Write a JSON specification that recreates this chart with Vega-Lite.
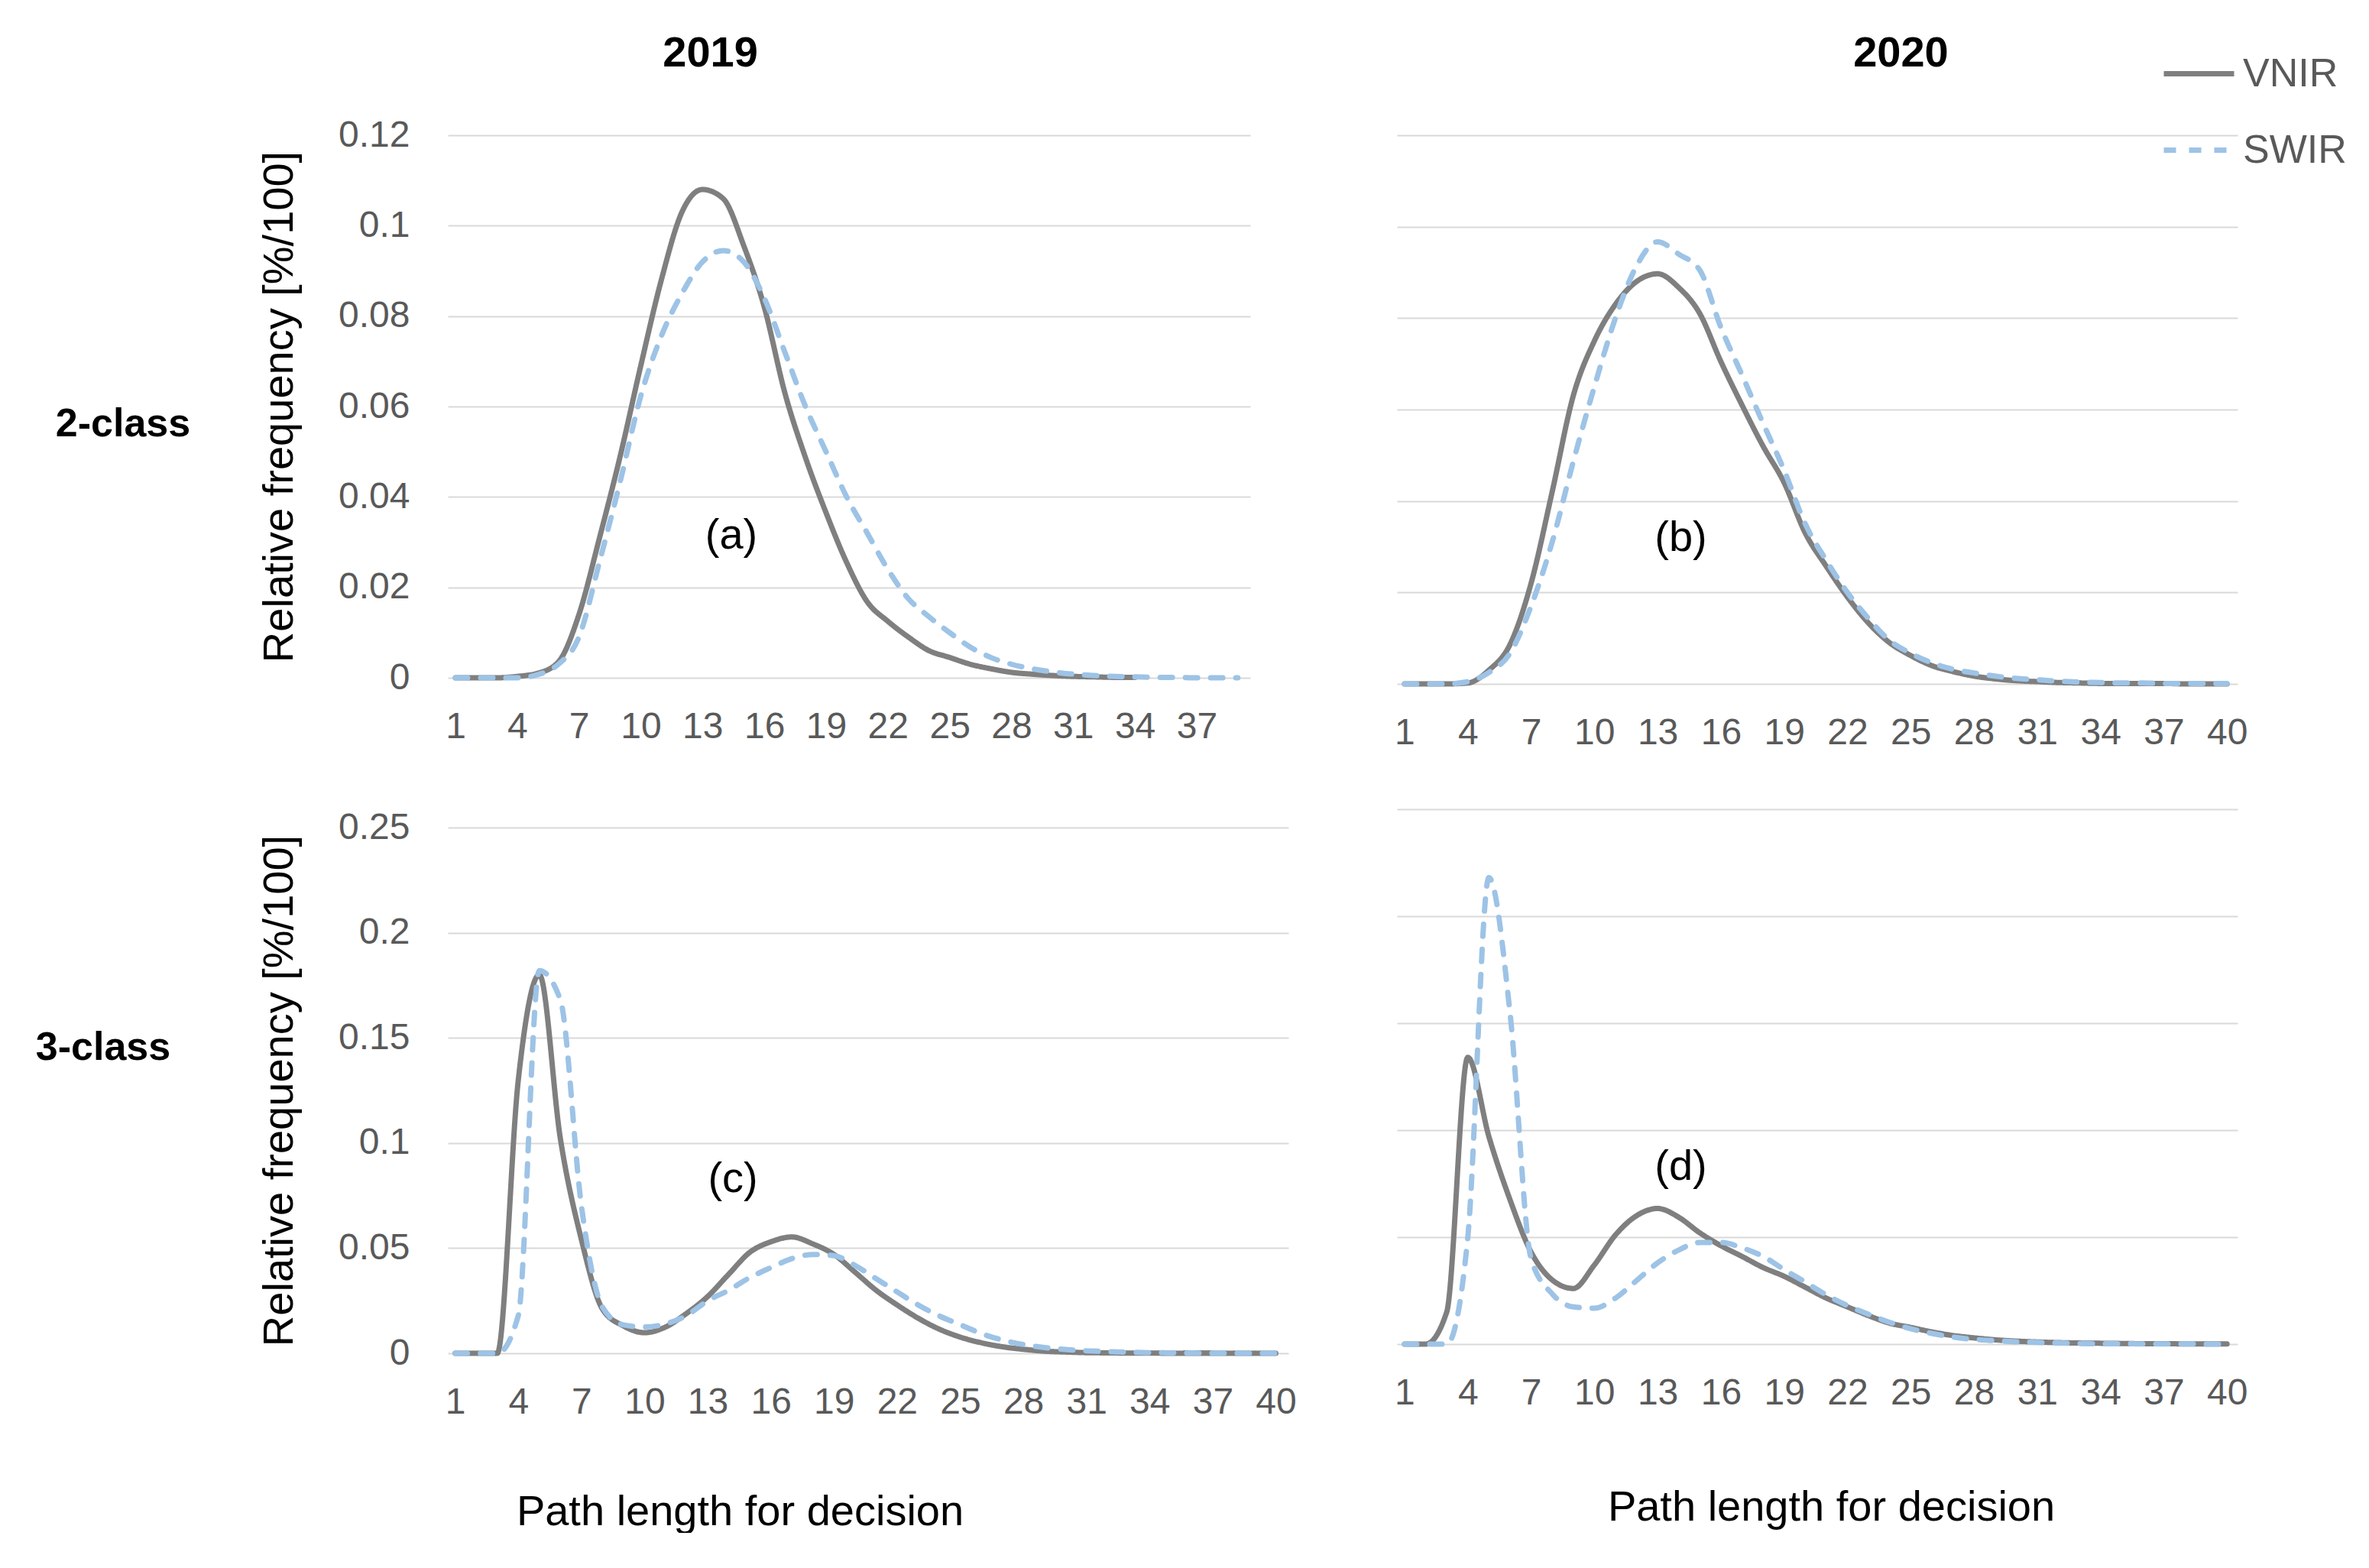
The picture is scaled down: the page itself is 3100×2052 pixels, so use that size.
{
  "$schema": "https://vega.github.io/schema/vega-lite/v6.json",
  "background": "white",
  "padding": {"left": 46, "top": 42, "right": 0, "bottom": 0},
  "config": {
    "font": "Liberation Sans",
    "view": {"stroke": null},
    "axis": {"domain": false, "ticks": false, "labelFontSize": 48, "labelColor": "#595959", "gridColor": "#D9D9D9", "gridWidth": 2, "titleFontSize": 56, "titleFontWeight": "normal", "titleColor": "#000000"},
    "axisX": {"grid": false, "labelPadding": 40, "titlePadding": 70},
    "axisY": {"grid": true, "labelPadding": 50, "titlePadding": 48},
    "legend": {"orient": "none", "legendX": 2242, "legendY": -130, "title": null, "symbolType": "stroke", "symbolSize": 8464, "symbolStrokeWidth": 7, "labelFontSize": 52, "labelColor": "#595959", "labelOffset": 8, "rowPadding": 24},
    "title": {"fontSize": 56, "fontWeight": "bold", "color": "#000000"}
  },
  "data": {"values": [
    {"panel":"a","sensor":"VNIR","x":1,"freq":0},{"panel":"a","sensor":"VNIR","x":2,"freq":0},{"panel":"a","sensor":"VNIR","x":3,"freq":0},{"panel":"a","sensor":"VNIR","x":4,"freq":0.0003},{"panel":"a","sensor":"VNIR","x":5,"freq":0.001},{"panel":"a","sensor":"VNIR","x":6,"freq":0.0035},{"panel":"a","sensor":"VNIR","x":7,"freq":0.014},{"panel":"a","sensor":"VNIR","x":8,"freq":0.031},{"panel":"a","sensor":"VNIR","x":9,"freq":0.049},{"panel":"a","sensor":"VNIR","x":10,"freq":0.069},{"panel":"a","sensor":"VNIR","x":11,"freq":0.088},{"panel":"a","sensor":"VNIR","x":12,"freq":0.103},{"panel":"a","sensor":"VNIR","x":13,"freq":0.108},{"panel":"a","sensor":"VNIR","x":14,"freq":0.106},{"panel":"a","sensor":"VNIR","x":15,"freq":0.0956},{"panel":"a","sensor":"VNIR","x":16,"freq":0.082},{"panel":"a","sensor":"VNIR","x":17,"freq":0.063},{"panel":"a","sensor":"VNIR","x":18,"freq":0.0487},{"panel":"a","sensor":"VNIR","x":19,"freq":0.0365},{"panel":"a","sensor":"VNIR","x":20,"freq":0.0255},{"panel":"a","sensor":"VNIR","x":21,"freq":0.0168},{"panel":"a","sensor":"VNIR","x":22,"freq":0.0125},{"panel":"a","sensor":"VNIR","x":23,"freq":0.009},{"panel":"a","sensor":"VNIR","x":24,"freq":0.006},{"panel":"a","sensor":"VNIR","x":25,"freq":0.0045},{"panel":"a","sensor":"VNIR","x":26,"freq":0.003},{"panel":"a","sensor":"VNIR","x":27,"freq":0.002},{"panel":"a","sensor":"VNIR","x":28,"freq":0.0012},{"panel":"a","sensor":"VNIR","x":29,"freq":0.0008},{"panel":"a","sensor":"VNIR","x":30,"freq":0.0005},{"panel":"a","sensor":"VNIR","x":31,"freq":0.0003},{"panel":"a","sensor":"VNIR","x":32,"freq":0.0002},{"panel":"a","sensor":"VNIR","x":33,"freq":0.0001},{"panel":"a","sensor":"VNIR","x":34,"freq":0.0001},
    {"panel":"a","sensor":"SWIR","x":1,"freq":0},{"panel":"a","sensor":"SWIR","x":2,"freq":0},{"panel":"a","sensor":"SWIR","x":3,"freq":0},{"panel":"a","sensor":"SWIR","x":4,"freq":0},{"panel":"a","sensor":"SWIR","x":5,"freq":0.0007},{"panel":"a","sensor":"SWIR","x":6,"freq":0.003},{"panel":"a","sensor":"SWIR","x":7,"freq":0.009},{"panel":"a","sensor":"SWIR","x":8,"freq":0.0257},{"panel":"a","sensor":"SWIR","x":9,"freq":0.0434},{"panel":"a","sensor":"SWIR","x":10,"freq":0.0623},{"panel":"a","sensor":"SWIR","x":11,"freq":0.0756},{"panel":"a","sensor":"SWIR","x":12,"freq":0.085},{"panel":"a","sensor":"SWIR","x":13,"freq":0.092},{"panel":"a","sensor":"SWIR","x":14,"freq":0.0945},{"panel":"a","sensor":"SWIR","x":15,"freq":0.092},{"panel":"a","sensor":"SWIR","x":16,"freq":0.084},{"panel":"a","sensor":"SWIR","x":17,"freq":0.072},{"panel":"a","sensor":"SWIR","x":18,"freq":0.06},{"panel":"a","sensor":"SWIR","x":19,"freq":0.05},{"panel":"a","sensor":"SWIR","x":20,"freq":0.04},{"panel":"a","sensor":"SWIR","x":21,"freq":0.032},{"panel":"a","sensor":"SWIR","x":22,"freq":0.024},{"panel":"a","sensor":"SWIR","x":23,"freq":0.0175},{"panel":"a","sensor":"SWIR","x":24,"freq":0.0135},{"panel":"a","sensor":"SWIR","x":25,"freq":0.01},{"panel":"a","sensor":"SWIR","x":26,"freq":0.0068},{"panel":"a","sensor":"SWIR","x":27,"freq":0.0045},{"panel":"a","sensor":"SWIR","x":28,"freq":0.003},{"panel":"a","sensor":"SWIR","x":29,"freq":0.002},{"panel":"a","sensor":"SWIR","x":30,"freq":0.0013},{"panel":"a","sensor":"SWIR","x":31,"freq":0.0008},{"panel":"a","sensor":"SWIR","x":32,"freq":0.0005},{"panel":"a","sensor":"SWIR","x":33,"freq":0.0003},{"panel":"a","sensor":"SWIR","x":34,"freq":0.0002},{"panel":"a","sensor":"SWIR","x":35,"freq":0.0001},{"panel":"a","sensor":"SWIR","x":36,"freq":0.0001},{"panel":"a","sensor":"SWIR","x":37,"freq":0},{"panel":"a","sensor":"SWIR","x":38,"freq":0},{"panel":"a","sensor":"SWIR","x":39,"freq":0},
    {"panel":"b","sensor":"VNIR","x":1,"freq":0},{"panel":"b","sensor":"VNIR","x":2,"freq":0},{"panel":"b","sensor":"VNIR","x":3,"freq":0},{"panel":"b","sensor":"VNIR","x":4,"freq":0.0002},{"panel":"b","sensor":"VNIR","x":5,"freq":0.003},{"panel":"b","sensor":"VNIR","x":6,"freq":0.0086},{"panel":"b","sensor":"VNIR","x":7,"freq":0.022},{"panel":"b","sensor":"VNIR","x":8,"freq":0.042},{"panel":"b","sensor":"VNIR","x":9,"freq":0.063},{"panel":"b","sensor":"VNIR","x":10,"freq":0.075},{"panel":"b","sensor":"VNIR","x":11,"freq":0.083},{"panel":"b","sensor":"VNIR","x":12,"freq":0.088},{"panel":"b","sensor":"VNIR","x":13,"freq":0.0897},{"panel":"b","sensor":"VNIR","x":14,"freq":0.0867},{"panel":"b","sensor":"VNIR","x":15,"freq":0.081},{"panel":"b","sensor":"VNIR","x":16,"freq":0.0705},{"panel":"b","sensor":"VNIR","x":17,"freq":0.061},{"panel":"b","sensor":"VNIR","x":18,"freq":0.052},{"panel":"b","sensor":"VNIR","x":19,"freq":0.044},{"panel":"b","sensor":"VNIR","x":20,"freq":0.033},{"panel":"b","sensor":"VNIR","x":21,"freq":0.0257},{"panel":"b","sensor":"VNIR","x":22,"freq":0.019},{"panel":"b","sensor":"VNIR","x":23,"freq":0.0133},{"panel":"b","sensor":"VNIR","x":24,"freq":0.009},{"panel":"b","sensor":"VNIR","x":25,"freq":0.0062},{"panel":"b","sensor":"VNIR","x":26,"freq":0.004},{"panel":"b","sensor":"VNIR","x":27,"freq":0.0027},{"panel":"b","sensor":"VNIR","x":28,"freq":0.0017},{"panel":"b","sensor":"VNIR","x":29,"freq":0.0011},{"panel":"b","sensor":"VNIR","x":30,"freq":0.0007},{"panel":"b","sensor":"VNIR","x":31,"freq":0.0005},{"panel":"b","sensor":"VNIR","x":32,"freq":0.0003},{"panel":"b","sensor":"VNIR","x":33,"freq":0.0002},{"panel":"b","sensor":"VNIR","x":34,"freq":0.0001},{"panel":"b","sensor":"VNIR","x":35,"freq":0.0001},{"panel":"b","sensor":"VNIR","x":36,"freq":0.0001},{"panel":"b","sensor":"VNIR","x":37,"freq":0.0001},{"panel":"b","sensor":"VNIR","x":38,"freq":0},{"panel":"b","sensor":"VNIR","x":39,"freq":0},{"panel":"b","sensor":"VNIR","x":40,"freq":0},
    {"panel":"b","sensor":"SWIR","x":1,"freq":0},{"panel":"b","sensor":"SWIR","x":2,"freq":0},{"panel":"b","sensor":"SWIR","x":3,"freq":0},{"panel":"b","sensor":"SWIR","x":4,"freq":0.0005},{"panel":"b","sensor":"SWIR","x":5,"freq":0.0025},{"panel":"b","sensor":"SWIR","x":6,"freq":0.0067},{"panel":"b","sensor":"SWIR","x":7,"freq":0.017},{"panel":"b","sensor":"SWIR","x":8,"freq":0.031},{"panel":"b","sensor":"SWIR","x":9,"freq":0.0486},{"panel":"b","sensor":"SWIR","x":10,"freq":0.065},{"panel":"b","sensor":"SWIR","x":11,"freq":0.08},{"panel":"b","sensor":"SWIR","x":12,"freq":0.0914},{"panel":"b","sensor":"SWIR","x":13,"freq":0.0967},{"panel":"b","sensor":"SWIR","x":14,"freq":0.094},{"panel":"b","sensor":"SWIR","x":15,"freq":0.0905},{"panel":"b","sensor":"SWIR","x":16,"freq":0.078},{"panel":"b","sensor":"SWIR","x":17,"freq":0.0676},{"panel":"b","sensor":"SWIR","x":18,"freq":0.057},{"panel":"b","sensor":"SWIR","x":19,"freq":0.0467},{"panel":"b","sensor":"SWIR","x":20,"freq":0.035},{"panel":"b","sensor":"SWIR","x":21,"freq":0.027},{"panel":"b","sensor":"SWIR","x":22,"freq":0.02},{"panel":"b","sensor":"SWIR","x":23,"freq":0.0143},{"panel":"b","sensor":"SWIR","x":24,"freq":0.0095},{"panel":"b","sensor":"SWIR","x":25,"freq":0.0067},{"panel":"b","sensor":"SWIR","x":26,"freq":0.0046},{"panel":"b","sensor":"SWIR","x":27,"freq":0.0032},{"panel":"b","sensor":"SWIR","x":28,"freq":0.0024},{"panel":"b","sensor":"SWIR","x":29,"freq":0.0017},{"panel":"b","sensor":"SWIR","x":30,"freq":0.0012},{"panel":"b","sensor":"SWIR","x":31,"freq":0.0009},{"panel":"b","sensor":"SWIR","x":32,"freq":0.0006},{"panel":"b","sensor":"SWIR","x":33,"freq":0.0004},{"panel":"b","sensor":"SWIR","x":34,"freq":0.0003},{"panel":"b","sensor":"SWIR","x":35,"freq":0.0002},{"panel":"b","sensor":"SWIR","x":36,"freq":0.0002},{"panel":"b","sensor":"SWIR","x":37,"freq":0.0001},{"panel":"b","sensor":"SWIR","x":38,"freq":0.0001},{"panel":"b","sensor":"SWIR","x":39,"freq":0.0001},{"panel":"b","sensor":"SWIR","x":40,"freq":0.0001},
    {"panel":"c","sensor":"VNIR","x":1,"freq":0},{"panel":"c","sensor":"VNIR","x":2,"freq":0},{"panel":"c","sensor":"VNIR","x":3,"freq":0},{"panel":"c","sensor":"VNIR","x":4,"freq":0.13},{"panel":"c","sensor":"VNIR","x":5,"freq":0.18},{"panel":"c","sensor":"VNIR","x":6,"freq":0.102},{"panel":"c","sensor":"VNIR","x":7,"freq":0.054},{"panel":"c","sensor":"VNIR","x":8,"freq":0.021},{"panel":"c","sensor":"VNIR","x":9,"freq":0.013},{"panel":"c","sensor":"VNIR","x":10,"freq":0.0098},{"panel":"c","sensor":"VNIR","x":11,"freq":0.0125},{"panel":"c","sensor":"VNIR","x":12,"freq":0.019},{"panel":"c","sensor":"VNIR","x":13,"freq":0.027},{"panel":"c","sensor":"VNIR","x":14,"freq":0.0376},{"panel":"c","sensor":"VNIR","x":15,"freq":0.048},{"panel":"c","sensor":"VNIR","x":16,"freq":0.053},{"panel":"c","sensor":"VNIR","x":17,"freq":0.0553},{"panel":"c","sensor":"VNIR","x":18,"freq":0.052},{"panel":"c","sensor":"VNIR","x":19,"freq":0.047},{"panel":"c","sensor":"VNIR","x":20,"freq":0.0386},{"panel":"c","sensor":"VNIR","x":21,"freq":0.03},{"panel":"c","sensor":"VNIR","x":22,"freq":0.023},{"panel":"c","sensor":"VNIR","x":23,"freq":0.0167},{"panel":"c","sensor":"VNIR","x":24,"freq":0.0115},{"panel":"c","sensor":"VNIR","x":25,"freq":0.0077},{"panel":"c","sensor":"VNIR","x":26,"freq":0.005},{"panel":"c","sensor":"VNIR","x":27,"freq":0.0031},{"panel":"c","sensor":"VNIR","x":28,"freq":0.0019},{"panel":"c","sensor":"VNIR","x":29,"freq":0.001},{"panel":"c","sensor":"VNIR","x":30,"freq":0.0006},{"panel":"c","sensor":"VNIR","x":31,"freq":0.0003},{"panel":"c","sensor":"VNIR","x":32,"freq":0.0002},{"panel":"c","sensor":"VNIR","x":33,"freq":0.0001},{"panel":"c","sensor":"VNIR","x":34,"freq":0.0001},{"panel":"c","sensor":"VNIR","x":35,"freq":0},{"panel":"c","sensor":"VNIR","x":36,"freq":0},{"panel":"c","sensor":"VNIR","x":37,"freq":0},{"panel":"c","sensor":"VNIR","x":38,"freq":0},{"panel":"c","sensor":"VNIR","x":39,"freq":0},{"panel":"c","sensor":"VNIR","x":40,"freq":0},
    {"panel":"c","sensor":"SWIR","x":1,"freq":0},{"panel":"c","sensor":"SWIR","x":2,"freq":0},{"panel":"c","sensor":"SWIR","x":3,"freq":0},{"panel":"c","sensor":"SWIR","x":4,"freq":0.018},{"panel":"c","sensor":"SWIR","x":5,"freq":0.182},{"panel":"c","sensor":"SWIR","x":6,"freq":0.168},{"panel":"c","sensor":"SWIR","x":7,"freq":0.07},{"panel":"c","sensor":"SWIR","x":8,"freq":0.022},{"panel":"c","sensor":"SWIR","x":9,"freq":0.0135},{"panel":"c","sensor":"SWIR","x":10,"freq":0.0125},{"panel":"c","sensor":"SWIR","x":11,"freq":0.014},{"panel":"c","sensor":"SWIR","x":12,"freq":0.018},{"panel":"c","sensor":"SWIR","x":13,"freq":0.025},{"panel":"c","sensor":"SWIR","x":14,"freq":0.03},{"panel":"c","sensor":"SWIR","x":15,"freq":0.036},{"panel":"c","sensor":"SWIR","x":16,"freq":0.0407},{"panel":"c","sensor":"SWIR","x":17,"freq":0.045},{"panel":"c","sensor":"SWIR","x":18,"freq":0.047},{"panel":"c","sensor":"SWIR","x":19,"freq":0.0464},{"panel":"c","sensor":"SWIR","x":20,"freq":0.0418},{"panel":"c","sensor":"SWIR","x":21,"freq":0.0355},{"panel":"c","sensor":"SWIR","x":22,"freq":0.0292},{"panel":"c","sensor":"SWIR","x":23,"freq":0.023},{"panel":"c","sensor":"SWIR","x":24,"freq":0.0178},{"panel":"c","sensor":"SWIR","x":25,"freq":0.0136},{"panel":"c","sensor":"SWIR","x":26,"freq":0.0094},{"panel":"c","sensor":"SWIR","x":27,"freq":0.0063},{"panel":"c","sensor":"SWIR","x":28,"freq":0.0042},{"panel":"c","sensor":"SWIR","x":29,"freq":0.0027},{"panel":"c","sensor":"SWIR","x":30,"freq":0.0018},{"panel":"c","sensor":"SWIR","x":31,"freq":0.0012},{"panel":"c","sensor":"SWIR","x":32,"freq":0.0008},{"panel":"c","sensor":"SWIR","x":33,"freq":0.0005},{"panel":"c","sensor":"SWIR","x":34,"freq":0.0003},{"panel":"c","sensor":"SWIR","x":35,"freq":0.0002},{"panel":"c","sensor":"SWIR","x":36,"freq":0.0001},{"panel":"c","sensor":"SWIR","x":37,"freq":0.0001},{"panel":"c","sensor":"SWIR","x":38,"freq":0},{"panel":"c","sensor":"SWIR","x":39,"freq":0},{"panel":"c","sensor":"SWIR","x":40,"freq":0},
    {"panel":"d","sensor":"VNIR","x":1,"freq":0},{"panel":"d","sensor":"VNIR","x":2,"freq":0},{"panel":"d","sensor":"VNIR","x":3,"freq":0.015},{"panel":"d","sensor":"VNIR","x":4,"freq":0.134},{"panel":"d","sensor":"VNIR","x":5,"freq":0.097},{"panel":"d","sensor":"VNIR","x":6,"freq":0.0675},{"panel":"d","sensor":"VNIR","x":7,"freq":0.043},{"panel":"d","sensor":"VNIR","x":8,"freq":0.03},{"panel":"d","sensor":"VNIR","x":9,"freq":0.026},{"panel":"d","sensor":"VNIR","x":10,"freq":0.037},{"panel":"d","sensor":"VNIR","x":11,"freq":0.051},{"panel":"d","sensor":"VNIR","x":12,"freq":0.06},{"panel":"d","sensor":"VNIR","x":13,"freq":0.0634},{"panel":"d","sensor":"VNIR","x":14,"freq":0.0593},{"panel":"d","sensor":"VNIR","x":15,"freq":0.052},{"panel":"d","sensor":"VNIR","x":16,"freq":0.046},{"panel":"d","sensor":"VNIR","x":17,"freq":0.041},{"panel":"d","sensor":"VNIR","x":18,"freq":0.0358},{"panel":"d","sensor":"VNIR","x":19,"freq":0.0317},{"panel":"d","sensor":"VNIR","x":20,"freq":0.0266},{"panel":"d","sensor":"VNIR","x":21,"freq":0.0215},{"panel":"d","sensor":"VNIR","x":22,"freq":0.0174},{"panel":"d","sensor":"VNIR","x":23,"freq":0.0133},{"panel":"d","sensor":"VNIR","x":24,"freq":0.0098},{"panel":"d","sensor":"VNIR","x":25,"freq":0.0078},{"panel":"d","sensor":"VNIR","x":26,"freq":0.0057},{"panel":"d","sensor":"VNIR","x":27,"freq":0.004},{"panel":"d","sensor":"VNIR","x":28,"freq":0.0029},{"panel":"d","sensor":"VNIR","x":29,"freq":0.002},{"panel":"d","sensor":"VNIR","x":30,"freq":0.0014},{"panel":"d","sensor":"VNIR","x":31,"freq":0.001},{"panel":"d","sensor":"VNIR","x":32,"freq":0.0007},{"panel":"d","sensor":"VNIR","x":33,"freq":0.0005},{"panel":"d","sensor":"VNIR","x":34,"freq":0.0004},{"panel":"d","sensor":"VNIR","x":35,"freq":0.0003},{"panel":"d","sensor":"VNIR","x":36,"freq":0.0002},{"panel":"d","sensor":"VNIR","x":37,"freq":0.0002},{"panel":"d","sensor":"VNIR","x":38,"freq":0.0001},{"panel":"d","sensor":"VNIR","x":39,"freq":0.0001},{"panel":"d","sensor":"VNIR","x":40,"freq":0.0001},
    {"panel":"d","sensor":"SWIR","x":1,"freq":0},{"panel":"d","sensor":"SWIR","x":2,"freq":0},{"panel":"d","sensor":"SWIR","x":3,"freq":0},{"panel":"d","sensor":"SWIR","x":4,"freq":0.05},{"panel":"d","sensor":"SWIR","x":5,"freq":0.218},{"panel":"d","sensor":"SWIR","x":6,"freq":0.155},{"panel":"d","sensor":"SWIR","x":7,"freq":0.04},{"panel":"d","sensor":"SWIR","x":8,"freq":0.0235},{"panel":"d","sensor":"SWIR","x":9,"freq":0.0174},{"panel":"d","sensor":"SWIR","x":10,"freq":0.0168},{"panel":"d","sensor":"SWIR","x":11,"freq":0.0215},{"panel":"d","sensor":"SWIR","x":12,"freq":0.0297},{"panel":"d","sensor":"SWIR","x":13,"freq":0.038},{"panel":"d","sensor":"SWIR","x":14,"freq":0.044},{"panel":"d","sensor":"SWIR","x":15,"freq":0.0475},{"panel":"d","sensor":"SWIR","x":16,"freq":0.0475},{"panel":"d","sensor":"SWIR","x":17,"freq":0.045},{"panel":"d","sensor":"SWIR","x":18,"freq":0.041},{"panel":"d","sensor":"SWIR","x":19,"freq":0.0348},{"panel":"d","sensor":"SWIR","x":20,"freq":0.029},{"panel":"d","sensor":"SWIR","x":21,"freq":0.023},{"panel":"d","sensor":"SWIR","x":22,"freq":0.018},{"panel":"d","sensor":"SWIR","x":23,"freq":0.0139},{"panel":"d","sensor":"SWIR","x":24,"freq":0.0102},{"panel":"d","sensor":"SWIR","x":25,"freq":0.0072},{"panel":"d","sensor":"SWIR","x":26,"freq":0.005},{"panel":"d","sensor":"SWIR","x":27,"freq":0.0033},{"panel":"d","sensor":"SWIR","x":28,"freq":0.0022},{"panel":"d","sensor":"SWIR","x":29,"freq":0.0016},{"panel":"d","sensor":"SWIR","x":30,"freq":0.0011},{"panel":"d","sensor":"SWIR","x":31,"freq":0.0008},{"panel":"d","sensor":"SWIR","x":32,"freq":0.0005},{"panel":"d","sensor":"SWIR","x":33,"freq":0.0003},{"panel":"d","sensor":"SWIR","x":34,"freq":0.0002},{"panel":"d","sensor":"SWIR","x":35,"freq":0.0002},{"panel":"d","sensor":"SWIR","x":36,"freq":0.0001},{"panel":"d","sensor":"SWIR","x":37,"freq":0.0001},{"panel":"d","sensor":"SWIR","x":38,"freq":0.0001},{"panel":"d","sensor":"SWIR","x":39,"freq":0},{"panel":"d","sensor":"SWIR","x":40,"freq":0}
  ]},
  "spacing": 126,
  "hconcat": [
    {
      "title": {"text": "2019", "anchor": "middle", "dx": 58, "offset": 54},
      "spacing": 84,
      "vconcat": [
        {
          "width": 1050, "height": 710,
          "title": {"text": "2-class", "orient": "left", "angle": 0, "align": "right", "baseline": "middle", "fontSize": 52, "offset": -88, "dy": 23},
          "layer": [
            {
              "transform": [{"filter": "datum.panel === 'a'"}],
              "mark": {"type": "line", "interpolate": "monotone", "strokeWidth": 7, "strokeCap": "round"},
              "encoding": {
                "x": {"field": "x", "type": "quantitative", "scale": {"domain": [0.63, 39.6], "nice": false, "zero": false}, "axis": {"values": [1,4,7,10,13,16,19,22,25,28,31,34,37], "title": null}},
                "y": {"field": "freq", "type": "quantitative", "scale": {"domain": [0, 0.12], "nice": false}, "axis": {"values": [0,0.02,0.04,0.06,0.08,0.1,0.12], "format": "~g", "title": "Relative frequency [%/100]"}},
                "color": {"field": "sensor", "type": "nominal", "scale": {"domain": ["VNIR","SWIR"], "range": ["#7F7F7F","#9DC3E6"]}, "legend": {"encode": {"symbols": {"update": {"stroke": {"signal": "datum.value === 'SWIR' ? '#4472C4' : '#7F7F7F'"}}}}}},
                "strokeDash": {"field": "sensor", "type": "nominal", "scale": {"domain": ["VNIR","SWIR"], "range": [[1,0],[16,17]]}, "legend": {"encode": {"symbols": {"update": {"stroke": {"signal": "datum.value === 'SWIR' ? '#4472C4' : '#7F7F7F'"}}}}}}
              }
            },
            {
              "data": {"values": [{"label": "(a)"}]},
              "mark": {"type": "text", "fontSize": 56, "color": "#000000"},
              "encoding": {"text": {"field": "label"}, "x": {"datum": 14.4}, "y": {"datum": 0.0314}}
            }
          ]
        },
        {
          "width": 1100, "height": 688,
          "title": {"text": "3-class", "orient": "left", "angle": 0, "align": "right", "baseline": "middle", "fontSize": 52, "offset": -62, "dy": -56},
          "layer": [
            {
              "transform": [{"filter": "datum.panel === 'c'"}],
              "mark": {"type": "line", "interpolate": "monotone", "strokeWidth": 7, "strokeCap": "round"},
              "encoding": {
                "x": {"field": "x", "type": "quantitative", "scale": {"domain": [0.65, 40.6], "nice": false, "zero": false}, "axis": {"values": [1,4,7,10,13,16,19,22,25,28,31,34,37,40], "title": "Path length for decision", "titlePadding": 92, "titleX": 382}},
                "y": {"field": "freq", "type": "quantitative", "scale": {"domain": [0, 0.25], "nice": false}, "axis": {"values": [0,0.05,0.1,0.15,0.2,0.25], "format": "~g", "title": "Relative frequency [%/100]"}},
                "color": {"field": "sensor", "type": "nominal", "scale": {"domain": ["VNIR","SWIR"], "range": ["#7F7F7F","#9DC3E6"]}},
                "strokeDash": {"field": "sensor", "type": "nominal", "scale": {"domain": ["VNIR","SWIR"], "range": [[1,0],[16,17]]}}
              }
            },
            {
              "data": {"values": [{"label": "(c)"}]},
              "mark": {"type": "text", "fontSize": 56, "color": "#000000"},
              "encoding": {"text": {"field": "label"}, "x": {"datum": 14.2}, "y": {"datum": 0.083}}
            }
          ]
        }
      ]
    },
    {
      "title": {"text": "2020", "anchor": "middle", "dx": 105, "offset": 78},
      "spacing": 76,
      "vconcat": [
        {
          "width": 1100, "height": 718,
          "layer": [
            {
              "transform": [{"filter": "datum.panel === 'b'"}],
              "mark": {"type": "line", "interpolate": "monotone", "strokeWidth": 7, "strokeCap": "round"},
              "encoding": {
                "x": {"field": "x", "type": "quantitative", "scale": {"domain": [0.64, 40.5], "nice": false, "zero": false}, "axis": {"values": [1,4,7,10,13,16,19,22,25,28,31,34,37,40], "title": null}},
                "y": {"field": "freq", "type": "quantitative", "scale": {"domain": [0, 0.12], "nice": false}, "axis": {"values": [0,0.02,0.04,0.06,0.08,0.1,0.12], "labels": false, "title": null}},
                "color": {"field": "sensor", "type": "nominal", "scale": {"domain": ["VNIR","SWIR"], "range": ["#7F7F7F","#9DC3E6"]}},
                "strokeDash": {"field": "sensor", "type": "nominal", "scale": {"domain": ["VNIR","SWIR"], "range": [[1,0],[16,17]]}}
              }
            },
            {
              "data": {"values": [{"label": "(b)"}]},
              "mark": {"type": "text", "fontSize": 56, "color": "#000000"},
              "encoding": {"text": {"field": "label"}, "x": {"datum": 14.1}, "y": {"datum": 0.032}}
            }
          ]
        },
        {
          "width": 1100, "height": 700,
          "layer": [
            {
              "transform": [{"filter": "datum.panel === 'd'"}],
              "mark": {"type": "line", "interpolate": "monotone", "strokeWidth": 7, "strokeCap": "round"},
              "encoding": {
                "x": {"field": "x", "type": "quantitative", "scale": {"domain": [0.64, 40.5], "nice": false, "zero": false}, "axis": {"values": [1,4,7,10,13,16,19,22,25,28,31,34,37,40], "title": "Path length for decision", "titlePadding": 98, "titleX": 568}},
                "y": {"field": "freq", "type": "quantitative", "scale": {"domain": [0, 0.25], "nice": false}, "axis": {"values": [0,0.05,0.1,0.15,0.2,0.25], "labels": false, "title": null}},
                "color": {"field": "sensor", "type": "nominal", "scale": {"domain": ["VNIR","SWIR"], "range": ["#7F7F7F","#9DC3E6"]}},
                "strokeDash": {"field": "sensor", "type": "nominal", "scale": {"domain": ["VNIR","SWIR"], "range": [[1,0],[16,17]]}}
              }
            },
            {
              "data": {"values": [{"label": "(d)"}]},
              "mark": {"type": "text", "fontSize": 56, "color": "#000000"},
              "encoding": {"text": {"field": "label"}, "x": {"datum": 14.1}, "y": {"datum": 0.083}}
            }
          ]
        }
      ]
    }
  ]
}
